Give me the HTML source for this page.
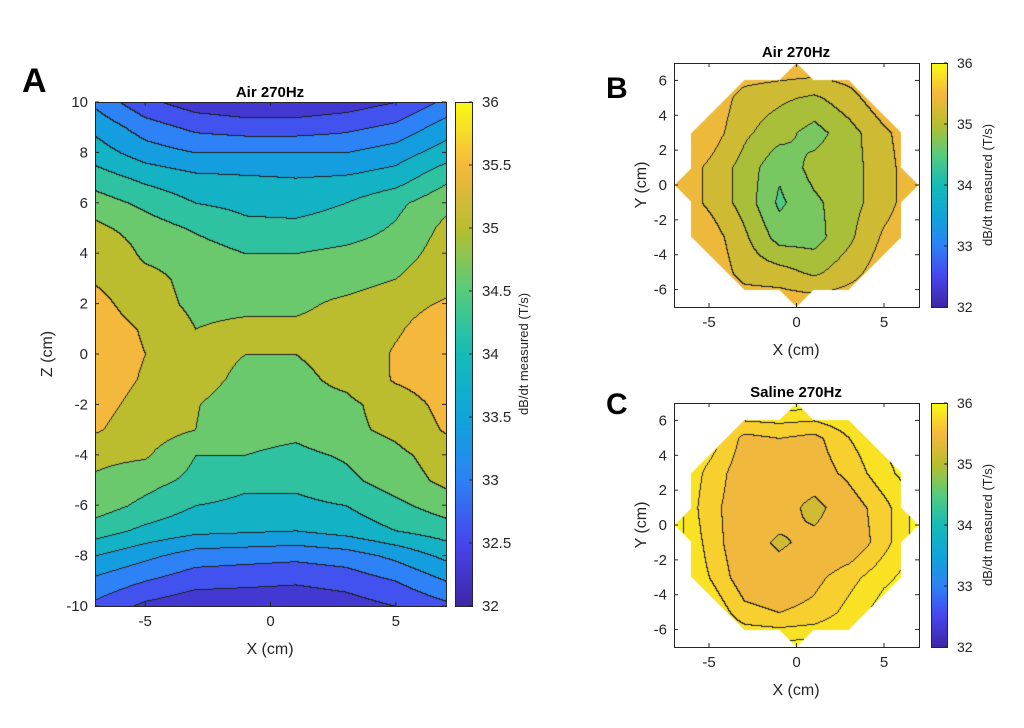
<!DOCTYPE html>
<html><head><meta charset="utf-8"><style>
body{margin:0;background:#fff;}
#root{position:relative;width:1024px;height:728px;overflow:hidden;background:#fff;font-family:"Liberation Sans",Arial,sans-serif;}
canvas{position:absolute;}
svg{position:absolute;left:0;top:0;}
</style></head><body>
<div id="root">
<canvas id="cA" style="left:95px;top:102px" width="351" height="504"></canvas>
<canvas id="cbA" style="left:455px;top:102px" width="17" height="504"></canvas>
<canvas id="cB" style="left:674px;top:63px" width="245" height="244"></canvas>
<canvas id="cbB" style="left:931px;top:63px" width="16" height="244"></canvas>
<canvas id="cC" style="left:674px;top:403px" width="245" height="244"></canvas>
<canvas id="cbC" style="left:931px;top:403px" width="16" height="244"></canvas>
<svg id="ov" width="1024" height="728">
<text x="22" y="92" font-size="34" font-weight="bold">A</text>
<text x="606" y="98" font-size="30" font-weight="bold">B</text>
<text x="606" y="414" font-size="30" font-weight="bold">C</text>
<text x="270" y="97" font-size="15" font-weight="bold" text-anchor="middle">Air 270Hz</text>
<text x="796" y="57" font-size="15" font-weight="bold" text-anchor="middle">Air 270Hz</text>
<text x="796" y="397" font-size="15" font-weight="bold" text-anchor="middle">Saline 270Hz</text>
<text x="270" y="654" font-size="16" text-anchor="middle" fill="#262626">X (cm)</text>
<text x="796" y="355" font-size="16" text-anchor="middle" fill="#262626">X (cm)</text>
<text x="796" y="695" font-size="16" text-anchor="middle" fill="#262626">X (cm)</text>
<text transform="translate(52,354) rotate(-90)" font-size="16" text-anchor="middle" fill="#262626">Z (cm)</text>
<text transform="translate(646,185) rotate(-90)" font-size="16" text-anchor="middle" fill="#262626">Y (cm)</text>
<text transform="translate(646,525) rotate(-90)" font-size="16" text-anchor="middle" fill="#262626">Y (cm)</text>
<text transform="translate(528,354) rotate(-90)" font-size="13" text-anchor="middle" fill="#262626">dB/dt measured (T/s)</text>
<text transform="translate(992,185) rotate(-90)" font-size="13" text-anchor="middle" fill="#262626">dB/dt measured (T/s)</text>
<text transform="translate(992,525) rotate(-90)" font-size="13" text-anchor="middle" fill="#262626">dB/dt measured (T/s)</text>
</svg>
</div>
<script>
// Panel A data: columns x, rows z (top to bottom)
const aX=[-7,-5,-3,-1,1,3,5,7];
const aZ=[10,9,8,7,6,5,4,3,2,1,0,-1,-2,-3,-4,-5,-6,-7,-8,-9,-10];
const aVals=[
[33.1,32.5,32.2,32.1,32.1,32.2,32.4,32.9],
[33.5,33.0,32.7,32.6,32.6,32.7,32.9,33.4],
[33.8,33.4,33.2,33.2,33.2,33.2,33.4,33.8],
[34.2,33.9,33.7,33.65,33.6,33.65,33.8,34.3],
[34.6,34.3,34.0,33.9,33.85,34.0,34.3,34.7],
[34.9,34.6,34.35,34.1,34.1,34.2,34.45,34.9],
[35.25,34.7,34.6,34.4,34.4,34.5,34.6,35.0],
[35.2,34.95,34.65,34.6,34.6,34.6,34.8,35.1],
[35.4,35.0,34.7,34.7,34.7,34.9,35.1,35.3],
[35.5,35.2,34.8,34.9,34.9,35.0,35.2,35.5],
[35.5,35.25,34.95,34.8,34.8,34.95,35.3,35.5],
[35.5,35.2,34.95,34.7,34.7,34.9,35.3,35.5],
[35.4,35.1,34.82,34.6,34.65,34.7,35.0,35.4],
[35.3,35.0,34.8,34.55,34.5,34.7,34.9,35.3],
[34.9,34.85,34.4,34.4,34.3,34.45,34.7,35.0],
[34.75,34.55,34.3,34.1,34.1,34.3,34.6,34.9],
[34.6,34.3,34.0,33.9,33.9,34.0,34.3,34.6],
[34.2,33.9,33.7,33.65,33.6,33.75,34.0,34.2],
[33.6,33.3,33.0,32.95,32.9,33.0,33.3,33.7],
[33.1,32.8,32.55,32.5,32.45,32.55,32.8,33.2],
[32.7,32.3,32.1,32.1,32.1,32.2,32.4,32.7]];
const aLevels=[32.4,32.8,33.2,33.6,34.0,34.4,34.8,35.25];
// Panels B, C: grid x and y (top to bottom)
const bX=[-7,-5,-3,-1,1,3,5,7];
const bY=[7,5,3,1,-1,-3,-5,-7];
const bVals=[
[35.5,35.5,35.5,35.5,35.5,35.5,35.5,35.5],
[35.5,35.5,35.2,35.1,35.0,35.2,35.5,35.5],
[35.5,35.45,35.1,34.9,34.7,34.95,35.25,35.5],
[35.5,35.25,34.95,34.6,34.9,34.95,35.2,35.5],
[35.5,35.25,34.95,34.5,34.75,34.95,35.2,35.5],
[35.5,35.45,35.1,34.7,34.7,35.0,35.35,35.5],
[35.5,35.5,35.2,35.15,35.0,35.2,35.45,35.5],
[35.5,35.5,35.5,35.5,35.5,35.5,35.5,35.5]];
const bLevels=[34.55,34.8,35.05,35.3];
const cVals=[
[35.95,35.95,35.95,35.95,35.95,35.95,35.95,35.95],
[35.95,35.85,35.55,35.6,35.55,35.75,35.9,35.95],
[35.95,35.7,35.5,35.45,35.5,35.65,35.85,35.95],
[35.95,35.65,35.5,35.45,35.2,35.5,35.7,35.95],
[35.95,35.7,35.45,35.25,35.4,35.45,35.7,35.95],
[35.95,35.75,35.5,35.45,35.55,35.7,35.85,35.95],
[35.95,35.9,35.65,35.6,35.65,35.8,35.95,35.95],
[35.95,35.95,35.95,35.95,35.95,35.95,35.95,35.95]];
const cLevels=[35.3,35.6,35.75,35.88];
const octagon=[[0,7],[1,6],[3,6],[6,3],[6,1],[7,0],[6,-1],[6,-3],[3,-6],[1,-6],[0,-7],[-1,-6],[-3,-6],[-6,-3],[-6,-1],[-7,0],[-6,1],[-6,3],[-3,6],[-1,6]];
const aXTicks=[-5,0,5], aZTicks=[-10,-8,-6,-4,-2,0,2,4,6,8,10];
const bXTicks=[-5,0,5], bYTicks=[-6,-4,-2,0,2,4,6];
const cbATicks=[32,32.5,33,33.5,34,34.5,35,35.5,36];
const cbBTicks=[32,33,34,35,36];

const PAR=[[0,[62,38,168]],[0.125,[71,70,238]],[0.25,[45,130,245]],[0.375,[15,165,217]],[0.5,[21,187,184]],[0.625,[86,204,125]],[0.75,[184,189,46]],[0.875,[246,184,61]],[1,[249,251,20]]];
function parula(t){t=Math.max(0,Math.min(1,t));for(let i=1;i<PAR.length;i++){if(t<=PAR[i][0]){const a=PAR[i-1],b=PAR[i];const f=(t-a[0])/(b[0]-a[0]);return [0,1,2].map(k=>Math.round(a[1][k]+(b[1][k]-a[1][k])*f));}}return PAR[PAR.length-1][1];}
const vmin=32,vmax=36;
function interp(xs,ys,vals,x,y){
  let i=0;while(i<xs.length-2&&x>xs[i+1])i++;
  let j=0;while(j<ys.length-2&&y<ys[j+1])j++;
  let fx=(x-xs[i])/(xs[i+1]-xs[i]);fx=Math.max(0,Math.min(1,fx));
  let fy=(y-ys[j])/(ys[j+1]-ys[j]);fy=Math.max(0,Math.min(1,fy));
  const a=vals[j][i],b=vals[j][i+1],c=vals[j+1][i],d=vals[j+1][i+1];
  return a*(1-fx)*(1-fy)+b*fx*(1-fy)+c*(1-fx)*fy+d*fx*fy;
}
function inPoly(x,y,p){let ins=false;for(let i=0,j=p.length-1;i<p.length;j=i++){const xi=p[i][0],yi=p[i][1],xj=p[j][0],yj=p[j][1];if(((yi>y)!=(yj>y))&&(x<(xj-xi)*(y-yi)/(yj-yi)+xi))ins=!ins;}return ins;}
function bandOf(v,lv){let i=0;while(i<lv.length&&v>=lv[i])i++;return i;}
function drawContour(id,xs,ys,vals,levels,xr,yr,clip){
  const cv=document.getElementById(id),ctx=cv.getContext('2d'),W=cv.width,H=cv.height;
  const img=ctx.createImageData(W,H);const band=new Int16Array(W*H);
  const mids=[];for(let k=0;k<=levels.length;k++){let m;if(k==0)m=levels[0]-0.1;else if(k==levels.length)m=levels[k-1]+(levels[k-1]-levels[k-2])/2;else m=(levels[k-1]+levels[k])/2;mids.push(parula((m-vmin)/(vmax-vmin)));}
  for(let py=0;py<H;py++)for(let px=0;px<W;px++){
    const x=xr[0]+(px+0.5)/W*(xr[1]-xr[0]);const y=yr[0]-(py+0.5)/H*(yr[0]-yr[1]);
    const idx=py*W+px;
    if(clip&&!inPoly(x,y,clip)){band[idx]=-1;continue;}
    band[idx]=bandOf(interp(xs,ys,vals,x,y),levels);
  }
  for(let py=0;py<H;py++)for(let px=0;px<W;px++){
    const idx=py*W+px,b=band[idx],o=idx*4;
    if(b<0){img.data[o]=255;img.data[o+1]=255;img.data[o+2]=255;img.data[o+3]=255;continue;}
    let line=false;
    if(px>0&&band[idx-1]>=0&&band[idx-1]!=b)line=true;
    if(py>0&&band[idx-W]>=0&&band[idx-W]!=b)line=true;
    const c=line?[30,30,30]:mids[b];
    img.data[o]=c[0];img.data[o+1]=c[1];img.data[o+2]=c[2];img.data[o+3]=255;
  }
  ctx.putImageData(img,0,0);
}
function drawBar(id){const cv=document.getElementById(id),ctx=cv.getContext('2d');for(let py=0;py<cv.height;py++){const c=parula(1-py/(cv.height-1));ctx.fillStyle='rgb('+c+')';ctx.fillRect(0,py,cv.width,1);}}
drawContour('cA',aX,aZ,aVals,aLevels,[-7,7],[10,-10],null);
drawContour('cB',bX,bY,bVals,bLevels,[-7,7],[7,-7],octagon);
drawContour('cC',bX,bY,cVals,cLevels,[-7,7],[7,-7],octagon);
drawBar('cbA');drawBar('cbB');drawBar('cbC');

const NS='http://www.w3.org/2000/svg',ov=document.getElementById('ov');
function mk(tag,attrs){const e=document.createElementNS(NS,tag);for(const k in attrs)e.setAttribute(k,attrs[k]);ov.appendChild(e);return e;}
function axes(L,T,W,H,xr,yr,xt,yt,pre){
  const fr=mk('rect',{x:L+0.5,y:T+0.5,width:W,height:H,fill:'none',stroke:'#262626','stroke-width':1});
  
  
  const sx=v=>L+(v-xr[0])/(xr[1]-xr[0])*W, sy=v=>T+(yr[0]-v)/(yr[0]-yr[1])*H;
  xt.forEach(v=>{const x=sx(v);
    mk('line',{x1:x,y1:T+H,x2:x,y2:T+H-4,stroke:'#262626'});mk('line',{x1:x,y1:T,x2:x,y2:T+4,stroke:'#262626'});
    const t=mk('text',{x:x,y:T+H+20,'font-size':15,'text-anchor':'middle',fill:'#262626'});t.textContent=v;
    
    });
  yt.forEach(v=>{const y=sy(v);
    mk('line',{x1:L,y1:y,x2:L+4,y2:y,stroke:'#262626'});mk('line',{x1:L+W,y1:y,x2:L+W-4,y2:y,stroke:'#262626'});
    const t=mk('text',{x:L-7,y:y+5,'font-size':15,'text-anchor':'end',fill:'#262626'});t.textContent=v;
    
    });
}
function cbar(L,T,W,H,ticks,pre,fs){
  const fr=mk('rect',{x:L+0.5,y:T+0.5,width:W,height:H,fill:'none',stroke:'#262626'});
  
  
  ticks.forEach(v=>{const y=T+(vmax-v)/(vmax-vmin)*H;
    mk('line',{x1:L+W,y1:y,x2:L+W-3,y2:y,stroke:'#262626'});
    const t=mk('text',{x:L+W+10,y:y+5,'font-size':fs,fill:'#262626'});t.textContent=v;
    
    });
}
axes(95,102,351,504,[-7,7],[10,-10],aXTicks,aZTicks,'a');
axes(674,63,245,244,[-7,7],[7,-7],bXTicks,bYTicks,'b');
axes(674,403,245,244,[-7,7],[7,-7],bXTicks,bYTicks,'c');
cbar(455,102,17,504,cbATicks,'a',15);
cbar(931,63,16,244,cbBTicks,'b',14);
cbar(931,403,16,244,cbBTicks,'c',14);
</script>
</body></html>
